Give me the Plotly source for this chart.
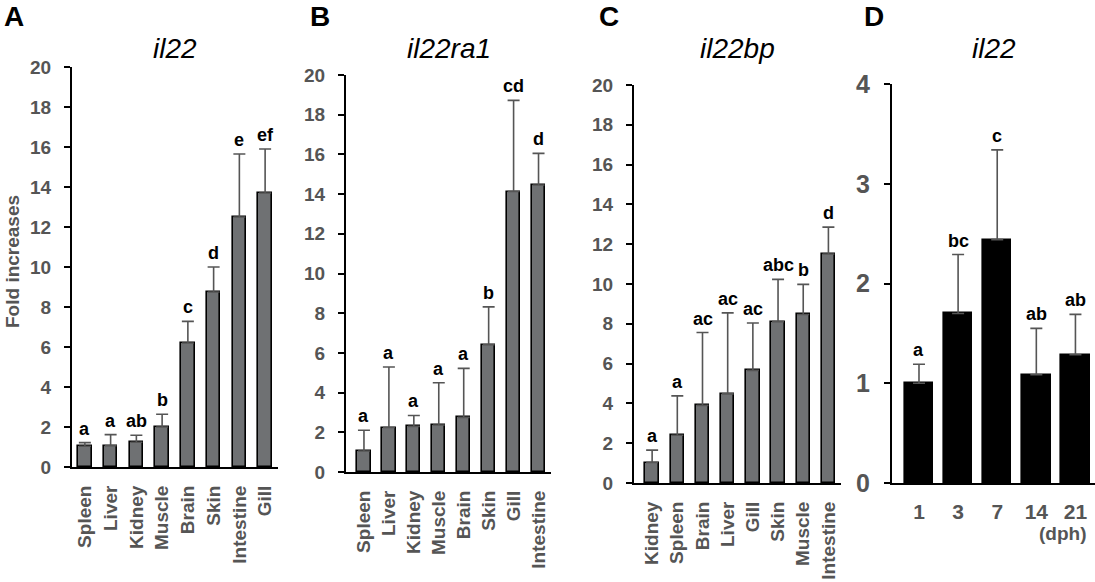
import plotly.graph_objects as go

W, H = 1095, 582

# A: il22 in tissues
a_tissues = ['Spleen', 'Liver', 'Kidney', 'Muscle', 'Brain', 'Skin', 'Intestine', 'Gill']
a_mean = [1.04, 1.06, 1.24, 2.0, 6.2, 8.75, 12.5, 13.7]
a_sd = [0.18, 0.56, 0.35, 0.64, 1.08, 1.25, 3.15, 2.2]
a_letters = ['a', 'a', 'ab', 'b', 'c', 'd', 'e', 'ef']

# B: il22ra1 in tissues
b_tissues = ['Spleen', 'Liver', 'Kidney', 'Muscle', 'Brain', 'Skin', 'Gill', 'Intestine']
b_mean = [1.06, 2.24, 2.3, 2.37, 2.75, 6.41, 14.13, 14.46]
b_sd = [1.04, 3.05, 0.55, 2.13, 2.47, 1.91, 4.59, 1.59]
b_letters = ['a', 'a', 'a', 'a', 'a', 'b', 'cd', 'd']

# C: il22bp in tissues
c_tissues = ['Kidney', 'Spleen', 'Brain', 'Liver', 'Gill', 'Skin', 'Muscle', 'Intestine']
c_mean = [1.03, 2.4, 3.9, 4.48, 5.66, 8.11, 8.47, 11.51]
c_sd = [0.62, 1.98, 3.66, 4.07, 2.38, 2.12, 1.51, 1.35]
c_letters = ['a', 'a', 'ac', 'ac', 'ac', 'abc', 'b', 'd']

# D: il22 during development (days post hatching)
d_days = ['1', '3', '7', '14', '21']
d_mean = [1.0, 1.7, 2.44, 1.085, 1.285]
d_sd = [0.19, 0.59, 0.9, 0.465, 0.405]
d_letters = ['a', 'bc', 'c', 'ab', 'ab']

FONT = 'Liberation Sans, Arial, sans-serif'
GRAY_TXT = '#555555'
GRAY_BAR = '#6f7173'
ERR = '#555555'

panels = [
    dict(cats=a_tissues, mean=a_mean, sd=a_sd, lab=a_letters, title='il22',
         xpx=(72, 278), ypx=(467, 67), xr=[-0.5, 7.5], yr=[0, 20], dt=2,
         fill=GRAY_BAR, bw=0.52, ysize=19, xsize=19, angle=-90),
    dict(cats=b_tissues, mean=b_mean, sd=b_sd, lab=b_letters, title='il22ra1',
         xpx=(346, 551), ypx=(472, 75), xr=[-0.72, 7.5], yr=[0, 20], dt=2,
         fill=GRAY_BAR, bw=0.53, ysize=19, xsize=19, angle=-90),
    dict(cats=c_tissues, mean=c_mean, sd=c_sd, lab=c_letters, title='il22bp',
         xpx=(634, 841), ypx=(483, 85), xr=[-0.72, 7.5], yr=[0, 20], dt=2,
         fill=GRAY_BAR, bw=0.53, ysize=19, xsize=19, angle=-90),
    dict(cats=d_days, mean=d_mean, sd=d_sd, lab=d_letters, title='il22',
         xpx=(892, 1095), ypx=(483, 84), xr=[-0.69, 4.5], yr=[0, 4], dt=1,
         fill='black', bw=0.73, ysize=25, xsize=21, angle=0),
]

fig = go.Figure()
annotations = []

for i, p in enumerate(panels):
    n = '' if i == 0 else str(i + 1)
    xa, ya = 'x' + n, 'y' + n
    fig.add_trace(go.Bar(
        x=p['cats'], y=p['mean'], xaxis=xa, yaxis=ya, width=p['bw'],
        marker=dict(color=p['fill'], line=dict(color='black', width=1.6)),
        error_y=dict(type='data', symmetric=False, array=p['sd'],
                     arrayminus=[0] * len(p['sd']), color=ERR, thickness=1.6, width=6),
        showlegend=False, hoverinfo='skip'))

    x0, x1 = p['xpx']
    y0, y1 = p['ypx']
    fig.update_layout(**{
        'xaxis' + n: dict(domain=[x0 / W, x1 / W], anchor=ya, type='category',
                          range=p['xr'], showline=True, linecolor='black', linewidth=2,
                          ticks='', tickangle=p['angle'], ticklabelstandoff=9,
                          automargin=False,
                          tickfont=dict(family=FONT, size=p['xsize'], color=GRAY_TXT, weight='bold'),
                          showgrid=False, zeroline=False, fixedrange=True),
        'yaxis' + n: dict(domain=[1 - y0 / H, 1 - y1 / H], anchor=xa, range=p['yr'],
                          dtick=p['dt'], showline=True, linecolor='black', linewidth=2,
                          ticks='outside', ticklen=6, tickwidth=1.6, tickcolor='black',
                          ticklabelstandoff=9, automargin=False,
                          tickfont=dict(family=FONT, size=p['ysize'], color=GRAY_TXT, weight='bold'),
                          showgrid=False, zeroline=False, fixedrange=True),
    })

    # significance letters above the error bars (x given as category index)
    for j, (m, s, t) in enumerate(zip(p['mean'], p['sd'], p['lab'])):
        annotations.append(dict(x=j, y=m + s, xref=xa, yref=ya, text=t, showarrow=False,
                                yanchor='bottom', yshift=2,
                                font=dict(family=FONT, size=18, color='black', weight='bold')))

    # gene title
    annotations.append(dict(x=(x0 + x1) / 2 / W, y=1 - 48 / H, xref='paper', yref='paper',
                            text='<i>' + p['title'] + '</i>', showarrow=False,
                            xanchor='center', yanchor='middle',
                            font=dict(family=FONT, size=28, color='black')))

tags = [('A', 2), ('B', 308), ('C', 597), ('D', 862)]
for t, xp in tags:
    annotations.append(dict(x=xp / W, y=1 - 16 / H, xref='paper', yref='paper', text=t,
                            showarrow=False, xanchor='left', yanchor='middle',
                            font=dict(family=FONT, size=28, color='black', weight='bold')))

annotations.append(dict(x=12 / W, y=1 - 262 / H, xref='paper', yref='paper',
                        text='Fold increases', textangle=-90, showarrow=False,
                        xanchor='center', yanchor='middle',
                        font=dict(family=FONT, size=19, color=GRAY_TXT, weight='bold')))
annotations.append(dict(x=1062 / W, y=1 - 533 / H, xref='paper', yref='paper',
                        text='(dph)', showarrow=False, xanchor='center', yanchor='middle',
                        font=dict(family=FONT, size=19, color=GRAY_TXT, weight='bold')))

fig.update_layout(template='none', width=W, height=H, margin=dict(l=0, r=0, t=0, b=0),
                  paper_bgcolor='white', plot_bgcolor='white',
                  annotations=annotations, bargap=0)

# page body has a default 8px margin; drop it so the figure fills the window
fig.write_html('out.html', config={'displayModeBar': False},
               post_script="document.body.style.margin='0';document.body.style.overflow='hidden';")
